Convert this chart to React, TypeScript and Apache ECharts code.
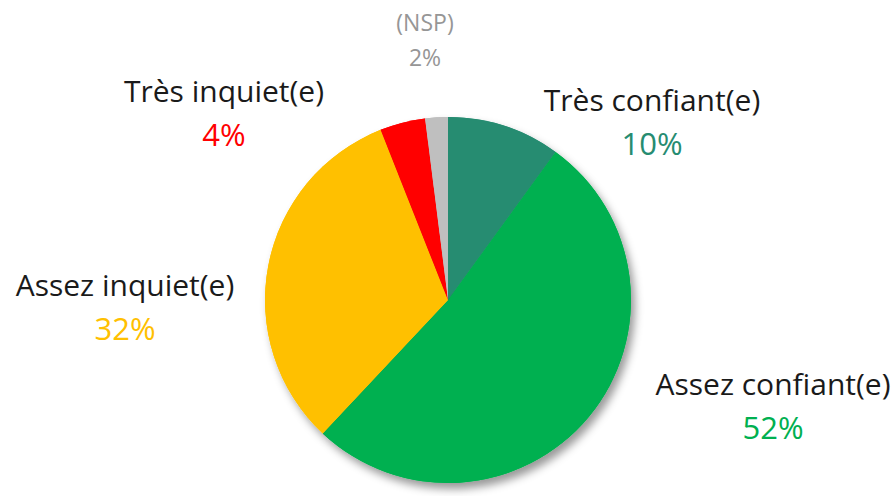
import React, { useEffect, useRef } from "react";
import * as echarts from "echarts";

const categories = ["Très confiant(e)", "Assez confiant(e)", "Assez inquiet(e)", "Très inquiet(e)", "(NSP)"];
const values = [10, 52, 32, 4, 2];
const colors = ["#268C71", "#00B050", "#FFC000", "#FF0000", "#BFBFBF"];
const labelColors = ["#268C71", "#00B050", "#FFC000", "#FF0000", "#969696"];
const nameColors = ["#1a1a1a", "#1a1a1a", "#1a1a1a", "#1a1a1a", "#969696"];
// label anchor positions (center of the two-line block)
const labelPos = [
  [652, 121],
  [773, 405],
  [125, 306],
  [224, 112],
  [425, 39],
];

export default function App() {
  const ref = useRef<HTMLDivElement>(null);
  useEffect(() => {
    const chart = echarts.init(ref.current!, undefined, { renderer: "svg" });
    const font = "'Open Sans', sans-serif";
    const data = values.map((v, i) => {
      const small = i === 4;
      return {
        value: v,
        name: categories[i],
        itemStyle: { color: colors[i] },
        label: {
          fontSize: small ? 23 : 30,
          rich: {
            n: {
              fontFamily: font,
              fontSize: small ? 23 : 30,
              color: nameColors[i],
              lineHeight: small ? 35 : 43,
              align: "center",
            },
            p: {
              fontFamily: font,
              fontSize: small ? 23 : 31,
              color: labelColors[i],
              lineHeight: small ? 35 : 43,
              align: "center",
            },
          },
        },
      };
    });
    chart.setOption({
      animation: false,
      backgroundColor: "#ffffff",
      series: [
        {
          type: "pie",
          silent: true,
          center: [448, 300],
          radius: 183,
          startAngle: 90,
          clockwise: true,
          z: 1,
          label: { show: false },
          labelLine: { show: false },
          itemStyle: {
            shadowBlur: 8,
            shadowOffsetX: 4,
            shadowOffsetY: 6,
            shadowColor: "rgba(0,0,0,0.4)",
          },
          data: values.map((v, i) => ({ value: v, name: categories[i], itemStyle: { color: colors[i] } })),
        },
        {
          type: "pie",
          center: [448, 300],
          radius: 183,
          startAngle: 90,
          clockwise: true,
          z: 2,
          labelLine: { show: false },
          label: {
            show: true,
            position: "outside",
            overflow: "none",
            edgeDistance: 0,
            bleedMargin: 0,
            formatter: (p: any) => `{n|${p.name}}\n{p|${p.value}%}`,
          },
          labelLayout: (params: any) => {
            const pos = labelPos[params.dataIndex];
            return { x: pos[0], y: pos[1], align: "center", verticalAlign: "middle" };
          },
          data,
        },
      ],
    });
    return () => chart.dispose();
  }, []);
  return (
    <div
      ref={ref}
      style={{ position: "fixed", left: 0, top: 0, width: 896, height: 496, background: "#fff" }}
    />
  );
}
